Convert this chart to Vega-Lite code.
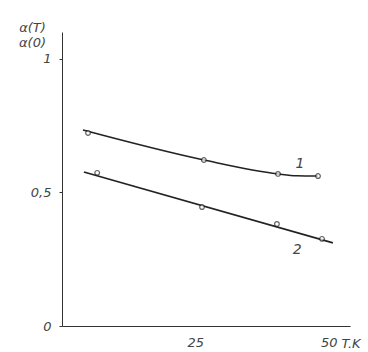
{
  "$schema": "https://vega.github.io/schema/vega-lite/v6.json",
  "width": 288,
  "height": 294,
  "autosize": {"type": "none"},
  "padding": {"left": 62, "top": 32, "right": 18, "bottom": 26},
  "background": "white",
  "config": {
    "view": {"stroke": null},
    "axis": {"grid": false, "domainColor": "#333", "tickColor": "#333", "labelFont": "DejaVu Sans", "titleFont": "DejaVu Sans", "labelFontStyle": "italic", "titleFontStyle": "italic", "labelColor": "#444", "titleColor": "#444", "labelFontSize": 13, "titleFontSize": 13, "titleFontWeight": "normal"}
  },
  "datasets": {
    "lines": [
      {"series": "1", "T": 3.94, "a": 0.733, "o": 1},
      {"series": "1", "T": 26.6, "a": 0.621, "o": 2},
      {"series": "1", "T": 40.5, "a": 0.569, "o": 3},
      {"series": "1", "T": 44.0, "a": 0.562, "o": 4},
      {"series": "1", "T": 48.0, "a": 0.561, "o": 5},
      {"series": "2", "T": 4.1, "a": 0.576, "o": 1},
      {"series": "2", "T": 50.8, "a": 0.311, "o": 2}
    ],
    "pts": [
      {"series": "1", "T": 4.88, "a": 0.722},
      {"series": "1", "T": 26.6, "a": 0.621},
      {"series": "1", "T": 40.5, "a": 0.569},
      {"series": "1", "T": 48.0, "a": 0.561},
      {"series": "2", "T": 6.6, "a": 0.573},
      {"series": "2", "T": 26.25, "a": 0.445},
      {"series": "2", "T": 40.3, "a": 0.382},
      {"series": "2", "T": 48.75, "a": 0.326}
    ],
    "labels": [
      {"text": "1", "T": 44.6, "a": 0.605},
      {"text": "2", "T": 44.1, "a": 0.285}
    ]
  },
  "layer": [
    {
      "data": {"name": "lines"},
      "mark": {"type": "line", "interpolate": "monotone", "color": "#222", "strokeWidth": 1.6},
      "encoding": {
        "x": {"field": "T", "type": "quantitative", "scale": {"domain": [0, 54], "nice": false},
          "axis": {"values": [25, 50], "tickSize": 0, "labelPadding": 10, "title": "T.K", "titleAngle": 0, "titleX": 279, "titleY": 17, "titleAlign": "left", "titleBaseline": "middle"}},
        "y": {"field": "a", "type": "quantitative", "scale": {"domain": [0, 1.1], "nice": false},
          "axis": {"values": [0, 0.5, 1], "tickSize": 3, "labelPadding": 8, "labelExpr": "datum.value == 0.5 ? '0,5' : format(datum.value, 'd')", "title": ["α(T)", "α(0)"], "titleAngle": 0, "titleX": -30, "titleY": -1, "titleAlign": "center", "titleBaseline": "alphabetic", "titleLineHeight": 15}},
        "detail": {"field": "series"},
        "order": {"field": "o"}
      }
    },
    {
      "data": {"name": "pts"},
      "mark": {"type": "point", "shape": "circle", "filled": true, "fill": "white", "stroke": "#222", "strokeWidth": 1.2, "size": 22},
      "encoding": {
        "x": {"field": "T", "type": "quantitative"},
        "y": {"field": "a", "type": "quantitative"}
      }
    },
    {
      "data": {"name": "labels"},
      "mark": {"type": "text", "font": "DejaVu Sans", "fontStyle": "italic", "fontSize": 14, "color": "#444", "align": "center", "baseline": "middle"},
      "encoding": {
        "x": {"field": "T", "type": "quantitative"},
        "y": {"field": "a", "type": "quantitative"},
        "text": {"field": "text"}
      }
    }
  ]
}
